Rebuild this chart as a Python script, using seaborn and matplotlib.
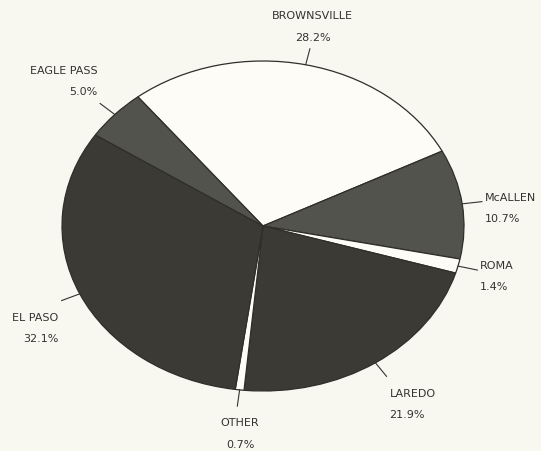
import matplotlib
matplotlib.use('Agg')
import matplotlib.pyplot as plt
import seaborn as sns
import numpy as np

# ports of entry, clockwise from the top
ports = ['BROWNSVILLE', 'McALLEN', 'ROMA', 'LAREDO', 'OTHER', 'EL PASO', 'EAGLE PASS']
shares = [28.2, 10.7, 1.4, 21.9, 0.7, 32.1, 5.0]
shade = ['white', 'dots', 'white', 'dark', 'white', 'dark', 'dots']

sns.set_theme(style='white')
plt.rcParams['font.family'] = ['DejaVu Sans']

bg = '#f9f8f0'
fills = {'white': '#fdfcf6', 'dots': '#53534d', 'dark': '#3b3a35'}
ink = '#33332f'

fig = plt.figure(figsize=(5.41, 4.52), dpi=100, facecolor=bg)
ax = fig.add_axes([0, 0, 1, 1])
ax.set_facecolor(bg)

start = 128.5
wedges, _ = ax.pie(shares, colors=[fills[s] for s in shade], startangle=start,
                   counterclock=False, radius=1.0,
                   wedgeprops=dict(edgecolor='#2f2e2a', linewidth=0.9))

# elliptical pie: fit axes so the unit circle spans the drawn oval
cx, cy, rx, ry = 263, 227, 201, 165
W, H = 541, 452
ax.set_aspect('auto')
ax.set_xlim(-cx / rx, (W - cx) / rx)
ax.set_ylim(-(H - cy) / ry, cy / ry)
ax.axis('off')

for w, name, val in zip(wedges, ports, shares):
    mid = np.deg2rad((w.theta1 + w.theta2) / 2)
    c, s = np.cos(mid), np.sin(mid)
    x1, y1 = 1.1 * c, 1.1 * s
    ax.plot([c, x1], [s, y1], color=ink, lw=0.8)
    if c > 0.25:
        ha, dx = 'left', 2
    elif c < -0.25:
        ha, dx = 'right', -2
    else:
        ha, dx = 'center', 2
    if s > 0.3:
        va, dy = 'bottom', 5
    elif s < -0.3:
        va, dy = 'top', -8
    else:
        va, dy = 'center', -4
    ax.annotate(f'{name}\n{val:.1f}%', xy=(x1, y1), xytext=(dx, dy),
                textcoords='offset points', ha=ha, va=va, multialignment=ha,
                fontsize=8, color=ink, linespacing=2.4)

fig.savefig('out.png', dpi=100, facecolor=bg)
